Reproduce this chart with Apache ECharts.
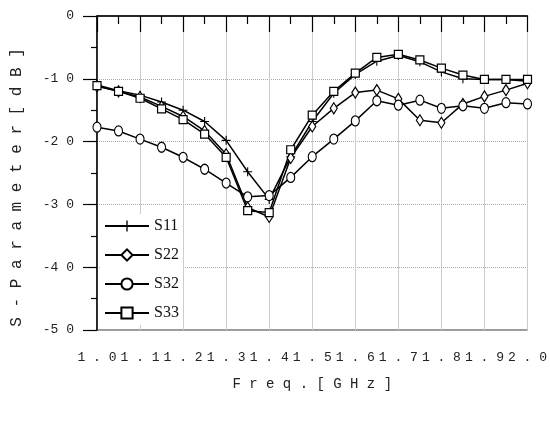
<!DOCTYPE html>
<html>
<head>
<meta charset="utf-8">
<script src="https://cdn.jsdelivr.net/npm/echarts@6/dist/echarts.min.js"></script>
<style>html,body{margin:0;padding:0;background:#fff}#c{width:550px;height:424px}</style>
</head>
<body>
<div id="c"></div>
<script>
var freq = [1.0,1.05,1.1,1.15,1.2,1.25,1.3,1.35,1.4,1.45,1.5,1.55,1.6,1.65,1.7,1.75,1.8,1.85,1.9,1.95,2.0];
var s11 = [-11.0,-11.9,-12.6,-13.7,-15.0,-16.8,-19.8,-24.8,-29.2,-22.4,-16.8,-12.3,-9.3,-7.2,-6.3,-7.3,-8.9,-10.0,-10.1,-10.1,-10.4];
var s22 = [-11.2,-12.0,-12.9,-14.4,-16.0,-18.3,-22.0,-30.5,-32.0,-22.6,-17.6,-14.7,-12.2,-11.8,-13.2,-16.6,-17.0,-14.0,-12.8,-11.8,-10.7];
var s32 = [-17.7,-18.3,-19.6,-20.9,-22.5,-24.4,-26.6,-28.8,-28.6,-25.7,-22.4,-19.6,-16.7,-13.5,-14.2,-13.4,-14.7,-14.3,-14.7,-13.8,-14.0];
var s33 = [-11.1,-12.0,-13.1,-14.8,-16.5,-18.8,-22.5,-31.0,-31.3,-21.3,-15.8,-12.0,-9.1,-6.6,-6.1,-7.0,-8.3,-9.4,-10.1,-10.1,-10.1];
var seriesNames = ['S11','S22','S32','S33'];

function pairs(arr){ return freq.map(function(f,i){ return [f, arr[i]]; }); }
function spaced(s){ return s.split('').join(' '); }

var plus = 'path://M-0.12,-1 L0.12,-1 L0.12,-0.12 L1,-0.12 L1,0.12 L0.12,0.12 L0.12,1 L-0.12,1 L-0.12,0.12 L-1,0.12 L-1,-0.12 L-0.12,-0.12 Z';
var hollow = {color:'#fff', borderColor:'#000', borderWidth:1.2};
function mk(name, data, symbol, size, style){
  return {name:name, type:'line', data:pairs(data), symbol:symbol, symbolSize:size,
    showAllSymbol:true, lineStyle:{color:'#000', width:1.5}, itemStyle:style,
    emphasis:{disabled:true}, animation:false};
}
var chart = echarts.init(document.getElementById('c'), null, {renderer:'canvas'});
chart.setOption({
  backgroundColor:'#fff',
  animation:false,
  grid:{left:97, right:19, top:16, bottom:94, show:true, borderColor:'#333', borderWidth:1},
  legend:{
    orient:'vertical', left:100, top:214, itemWidth:44, itemHeight:14, itemGap:13,
    backgroundColor:'#fff', padding:[4,4,4,4],
    textStyle:{fontFamily:'Liberation Serif', fontSize:16, color:'#111'},
    data:seriesNames
  },
  xAxis:{
    type:'value', min:1.0, max:2.0, interval:0.1,
    name:spaced('Freq.[GHz]'), nameLocation:'middle', nameGap:47,
    nameTextStyle:{fontFamily:'Liberation Mono', fontSize:14, color:'#222'},
    axisLine:{show:true, lineStyle:{color:'#000', width:1.5}},
    axisTick:{show:true, length:16, lineStyle:{color:'#000', width:1.2}},
    minorTick:{show:true, splitNumber:2, length:8, lineStyle:{color:'#000', width:1.2}},
    axisLabel:{fontFamily:'Liberation Mono', fontSize:13, color:'#222', margin:21,
      formatter:function(v){ return spaced(v.toFixed(1)); }},
    splitLine:{show:true, lineStyle:{color:'#ccc', width:1}}
  },
  yAxis:{
    type:'value', min:-50, max:0, interval:10,
    name:spaced('S-Parameter[dB]') + '   ', nameLocation:'middle', nameGap:72, nameRotate:90,
    nameTextStyle:{fontFamily:'Liberation Mono', fontSize:16, color:'#222'},
    axisLine:{show:true, lineStyle:{color:'#000', width:1.5}},
    axisTick:{show:true, length:14, lineStyle:{color:'#000', width:1.2}},
    minorTick:{show:true, splitNumber:2, length:6, lineStyle:{color:'#000', width:1.2}},
    axisLabel:{fontFamily:'Liberation Mono', fontSize:13, color:'#222', margin:23,
      formatter:function(v){ var s = String(v); return s.length>1 ? s.slice(0,-1)+' '+s.slice(-1) : s; }},
    splitLine:{show:true, lineStyle:{color:'#aaa', width:1, type:'dotted'}}
  },
  series:[
    mk('S11', s11, plus, 9, {color:'#000', borderWidth:0}),
    mk('S22', s22, 'diamond', [7,11], hollow),
    mk('S32', s32, 'circle', [8,10], hollow),
    mk('S33', s33, 'rect', 8, hollow)
  ]
});
</script>
</body>
</html>
